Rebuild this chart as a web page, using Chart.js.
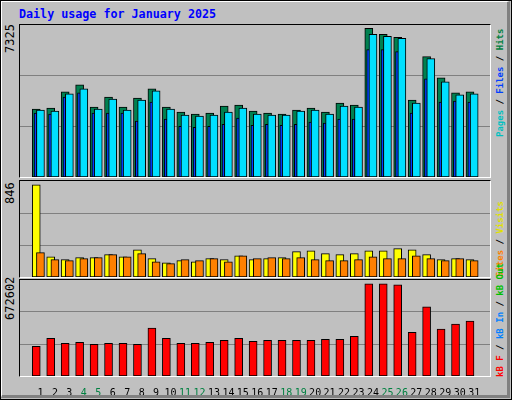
<!DOCTYPE html>
<html><head><meta charset="utf-8">
<script src="https://cdn.jsdelivr.net/npm/chart.js@4/dist/chart.umd.min.js"></script>
<style>
body{margin:0;width:512px;height:400px;overflow:hidden;background:#C0C0C0;font-family:"DejaVu Sans Mono",monospace}
#outer{position:absolute;left:0;top:0;width:510px;height:398px;border:1px solid #000;background:#C0C0C0}
#bev{position:absolute;left:0;top:0;width:505px;height:393px;border-top:1px solid #fff;border-left:1px solid #fff;border-right:3px solid #808080;border-bottom:3px solid #808080}
.pw{position:absolute;left:19px;width:470px;border-top:1px solid #000;border-left:1px solid #000;border-right:1px solid #fff;border-bottom:1px solid #fff}
canvas{position:absolute;display:block}
.t{position:absolute;white-space:nowrap}
.up{position:absolute;white-space:nowrap;transform-origin:0 0;transform:rotate(-90deg)}
</style></head><body>
<div id="outer"><div id="bev"></div></div>
<div class="t" style="left:19px;top:7px;color:#0000FF;font-weight:bold;font-size:11.7px">Daily usage for January 2025</div>
<div class="pw" style="top:24px;height:152px"></div>
<div class="pw" style="top:180px;height:96px"></div>
<div class="pw" style="top:279px;height:96px"></div>
<canvas id="c1" width="470" height="152" style="left:20px;top:25px"></canvas>
<canvas id="c2" width="470" height="96" style="left:20px;top:181px"></canvas>
<canvas id="c3" width="470" height="115" style="left:20px;top:280px"></canvas>
<div class="up" style="left:3px;top:53px;font-size:12px">7325</div>
<div class="up" style="left:3px;top:204px;font-size:12px">846</div>
<div class="up" style="left:3px;top:320px;font-size:12px">672602</div>
<div class="up" style="left:495px;top:137px;font-size:9px;font-weight:bold"><span style="color:#00C0C0">Pages</span> / <span style="color:#0040FF">Files</span> / <span style="color:#008040">Hits</span></div>
<div class="up" style="left:495px;top:277px;font-size:9px;font-weight:bold"><span style="color:#FF8000">Sites</span> / <span style="color:#E0E000">Visits</span></div>
<div class="up" style="left:495px;top:377px;font-size:9px;font-weight:bold"><span style="color:#FF0000">kB F</span> / <span style="color:#0080FF">kB In</span> / <span style="color:#00C000">kB Out</span></div>
<script>
const days=[1,2,3,4,5,6,7,8,9,10,11,12,13,14,15,16,17,18,19,20,21,22,23,24,25,26,27,28,29,30,31];
const weekend=[4,5,11,12,18,19,25,26];
const hits=[3274,3322,4100,4440,3371,3857,3371,3808,4246,3371,3128,3031,3079,3419,3468,3176,3079,3031,3225,3322,3128,3565,3468,7163,6871,6725,3711,5802,4781,4051,4100];
const files=[3225,3176,4003,4246,3274,3760,3225,3711,4149,3274,2982,2933,2982,3128,3322,3031,2982,2982,3176,3225,3031,3419,3371,6871,6774,6677,3565,5705,4586,3954,4003];
const pages=[3079,3031,3857,4051,3079,3079,3079,2690,3614,2787,2447,2398,2447,2544,2836,2496,2544,2496,2544,2642,2593,2787,2787,6142,6142,6045,3079,4732,3614,3663,3614];
const visits=[846,186,159,177,177,205,186,250,168,131,150,140,168,159,195,159,168,177,232,241,214,205,214,241,241,260,250,205,159,168,159];
const sites=[223,159,150,168,177,205,186,214,140,122,159,150,168,140,195,168,177,168,177,159,150,150,159,186,168,168,195,168,150,168,150];
const kbytes=[216000,275000,238100,245500,230800,238100,238100,230800,348600,275000,238100,238100,245500,260200,275000,252900,260200,260200,260200,260200,267600,267600,289700,672602,672602,665300,319200,503300,341200,378100,400200];
const maxTop=7325, maxMid=880, maxBot=699700;

function pts(vals,off){return vals.map((v,i)=>({x:days[i]+off,y:v}));}
function ds(vals,off,color,w,order){return {data:pts(vals,off),backgroundColor:color,borderColor:'#000',borderWidth:1,barThickness:w,grouped:false,order:order,borderSkipped:false};}
function opts(max,showX){
  return {responsive:false,animation:false,devicePixelRatio:1,
    layout:{padding:0},
    plugins:{legend:{display:false},tooltip:{enabled:false}},
    scales:{
      x:{type:'linear',min:0.11,max:31.57,display:showX,grid:{display:false},border:{display:false},
        afterBuildTicks:s=>{s.ticks=days.map(v=>({value:v}));},
        afterFit:s=>{s.height=showX?19:0;},
        ticks:{autoSkip:false,maxRotation:0,padding:3,font:{family:'DejaVu Sans Mono',size:10},
          color:c=>weekend.includes(c.tick.value)?'#008040':'#000',
          callback:v=>String(v)}},
      y:{min:0,max:max,grid:{color:'#808080',drawTicks:false,lineWidth:c=>(c.tick.value>0&&c.tick.value<max)?1:0},border:{display:false},
        afterBuildTicks:s=>{s.ticks=[{value:0},{value:max/3},{value:2*max/3},{value:max}];},
        afterFit:s=>{s.width=0;},ticks:{display:false}}
    }};
}
new Chart(document.getElementById('c1'),{type:'bar',data:{datasets:[
  ds(files,0,'#00E0FF',8,0),ds(pages,-0.335,'#0040FF',3,1),ds(hits,-0.29,'#008050',8,2)]},options:opts(maxTop,false)});
new Chart(document.getElementById('c2'),{type:'bar',data:{datasets:[
  ds(sites,0,'#FF8000',8,0),ds(visits,-0.29,'#FFFF00',8,1)]},options:opts(maxMid,false)});
new Chart(document.getElementById('c3'),{type:'bar',data:{datasets:[
  ds(kbytes,-0.29,'#FF0000',8,0)]},options:opts(maxBot,true)});
</script>
</body></html>
